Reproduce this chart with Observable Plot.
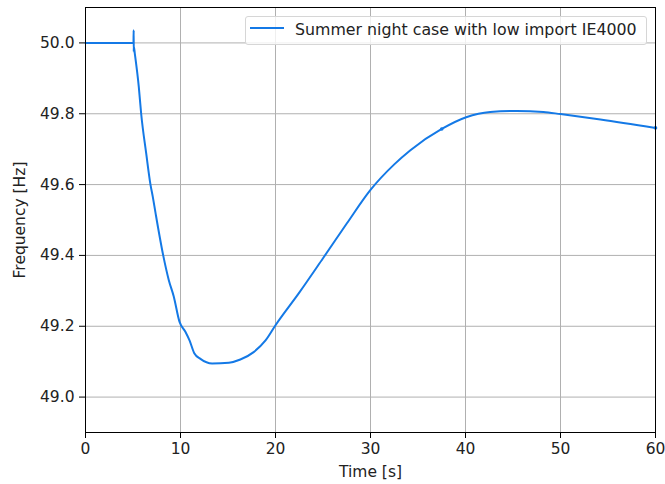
<!DOCTYPE html>
<html>
<head>
<meta charset="utf-8">
<script src="https://cdn.jsdelivr.net/npm/d3@7"></script>
<script src="https://cdn.jsdelivr.net/npm/@observablehq/plot@0.6"></script>
<style>
  html, body { margin: 0; padding: 0; background: #fff; }
  #wrap { position: relative; width: 665px; height: 484px; font-family: "DejaVu Sans", sans-serif; }
  #legend { position: absolute; left: 245px; top: 16px; width: 402px; height: 29px;
    border: 1px solid #d6d6d6; border-radius: 3px; background: rgba(255,255,255,0.8);
    box-sizing: border-box; font-size: 15.8px; color: #222; }
  #legend .sw { position: absolute; left: 4px; top: 10px; width: 34px; height: 0; border-top: 2px solid #1479e6; }
  #legend .tx { position: absolute; left: 49px; top: 3px; white-space: nowrap; }
</style>
</head>
<body>
<div id="wrap"></div>
<script>
const seriesName = "Summer night case with low import IE4000";
const time = [0, 2, 4, 5.05, 5.07, 5.08, 5.09, 5.19, 5.61, 5.86, 6.39, 6.84, 7.08, 7.37, 8.18, 8.77, 9.29, 9.89, 10.5, 10.95, 11.45, 12.1, 13.33, 15.1, 16.3, 17.7, 18.95, 20, 22.5, 25, 27.5, 30, 32.5, 34.2, 37.5, 40.07, 42.6, 45.4, 48.2, 50, 54.2, 60];
const freq = [50.0, 50.0, 50.0, 50.0, 50.036, 49.975, 49.99, 49.97, 49.876, 49.80, 49.688, 49.60, 49.566, 49.52, 49.40, 49.33, 49.284, 49.213, 49.185, 49.16, 49.124, 49.108, 49.095, 49.097, 49.106, 49.127, 49.16, 49.203, 49.295, 49.392, 49.49, 49.585, 49.657, 49.697, 49.757, 49.79, 49.805, 49.808, 49.805, 49.799, 49.784, 49.76];
const markTimes = [37.5, 60];
const markFreqs = [49.757, 49.76];
const xTicks = [0, 10, 20, 30, 40, 50, 60];
const yTicks = [49.0, 49.2, 49.4, 49.6, 49.8, 50.0];

const data = time.map((t, i) => ({t, f: freq[i]}));
const marks = markTimes.map((t, i) => ({t, f: markFreqs[i]}));
const color = "#1479e6";

const chart = Plot.plot({
  width: 665,
  height: 484,
  marginLeft: 85,
  marginRight: 10,
  marginTop: 7,
  marginBottom: 52,
  style: {fontFamily: "DejaVu Sans, sans-serif", fontSize: "15.5px", color: "#222", background: "#fff"},
  x: {domain: [0, 60]},
  y: {domain: [48.9, 50.1]},
  marks: [
    Plot.gridX(xTicks, {stroke: "#b0b0b0", strokeOpacity: 1, strokeWidth: 1}),
    Plot.gridY(yTicks, {stroke: "#b0b0b0", strokeOpacity: 1, strokeWidth: 1}),
    Plot.axisX(xTicks, {tickSize: 6, tickPadding: 4, tickFormat: d => String(d), label: "Time [s]", labelAnchor: "center", labelArrow: "none", labelOffset: 44, stroke: "#000", fontSize: 15.5}),
    Plot.axisY(yTicks, {tickSize: 6, tickPadding: 5, tickFormat: d => d.toFixed(1), label: "Frequency [Hz]", labelAnchor: "center", labelArrow: "none", labelOffset: 72, stroke: "#000", fontSize: 15.5}),
    Plot.line(data, {x: "t", y: "f", stroke: color, strokeWidth: 2, curve: "monotone-x"}),
    Plot.dot(marks, {x: "t", y: "f", r: 1.8, fill: color, stroke: "none"}),
    Plot.frame({stroke: "#000", strokeWidth: 1})
  ]
});
const wrap = document.getElementById("wrap");
wrap.appendChild(chart);
const lg = document.createElement("div");
lg.id = "legend";
lg.innerHTML = '<div class="sw"></div><div class="tx"></div>';
lg.querySelector(".tx").textContent = seriesName;
wrap.appendChild(lg);
</script>
</body>
</html>
